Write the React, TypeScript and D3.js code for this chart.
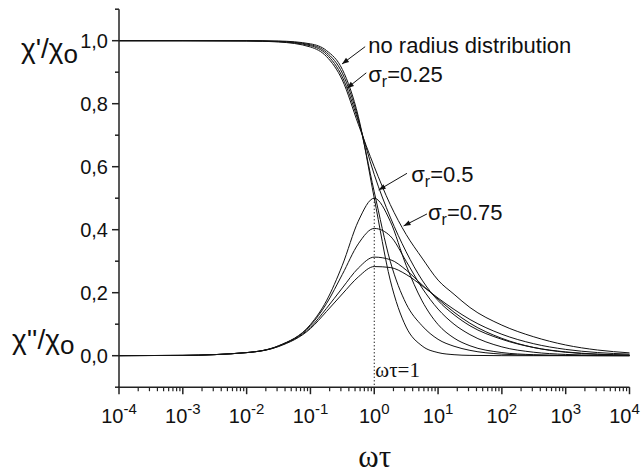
import React from "react";
import * as d3 from "d3";

// ωτ sample positions (log spaced)
const wt = [1e-4, 1e-3, 1e-2, 0.0316, 0.1, 0.178, 0.316, 0.562, 1, 1.78, 3.16, 5.62, 10, 17.8, 31.6, 100, 316, 1000, 3160, 1e4];

// χ'/χ0 curves
const noDistReal = [1, 1, 0.9999, 0.999, 0.99, 0.969, 0.909, 0.76, 0.5, 0.24, 0.091, 0.031, 0.0099, 0.0032, 0.001, 0.0001, 0, 0, 0, 0];
const s25Real = [1, 1, 0.9997, 0.998, 0.987, 0.963, 0.897, 0.752, 0.52, 0.3, 0.165, 0.095, 0.052, 0.03, 0.017, 0.005, 0.0015, 0.0005, 0.0002, 0];
const s50Real = [1, 1, 0.9995, 0.997, 0.984, 0.957, 0.885, 0.745, 0.575, 0.44, 0.33, 0.24, 0.175, 0.13, 0.095, 0.052, 0.026, 0.012, 0.005, 0.002];
const s75Real = [1, 1, 0.9993, 0.996, 0.98, 0.95, 0.875, 0.735, 0.6, 0.48, 0.385, 0.31, 0.24, 0.195, 0.153, 0.097, 0.06, 0.034, 0.018, 0.009];

// χ''/χ0 curves
const noDistImag = [0.0001, 0.001, 0.01, 0.0316, 0.099, 0.174, 0.287, 0.427, 0.5, 0.427, 0.287, 0.174, 0.099, 0.056, 0.0316, 0.01, 0.0032, 0.001, 0.0003, 0.0001];
const s25Imag = [0.0001, 0.001, 0.0099, 0.031, 0.096, 0.165, 0.258, 0.355, 0.404, 0.38, 0.3, 0.215, 0.148, 0.1, 0.067, 0.028, 0.011, 0.004, 0.0015, 0.0005];
const s50Imag = [0.0001, 0.001, 0.0098, 0.03, 0.09, 0.15, 0.215, 0.278, 0.313, 0.305, 0.272, 0.225, 0.18, 0.138, 0.103, 0.055, 0.026, 0.011, 0.0045, 0.0017];
const s75Imag = [0.0001, 0.001, 0.0097, 0.029, 0.086, 0.14, 0.196, 0.25, 0.283, 0.28, 0.258, 0.222, 0.183, 0.147, 0.115, 0.068, 0.038, 0.02, 0.01, 0.005];

const yMajor = [0, 0.2, 0.4, 0.6, 0.8, 1.0];
const yMajorLabels = ["0,0", "0,2", "0,4", "0,6", "0,8", "1,0"];
const yMinor = [-0.1, 0.1, 0.3, 0.5, 0.7, 0.9, 1.1];
const xExponents = [-4, -3, -2, -1, 0, 1, 2, 3, 4];
const xExpLabels = ["-4", "-3", "-2", "-1", "0", "1", "2", "3", "4"];

// annotation texts and arrow anchors (data space)
const annotations = [
  { main: "no radius distribution", sub: "", rest: "", tx: 0.805, ty: 0.962, ax: 0.72, ay: 0.981, bx: 0.312, by: 0.926 },
  { main: "σ", sub: "r", rest: "=0.25", tx: 0.805, ty: 0.87, ax: 0.75, ay: 0.898, bx: 0.373, by: 0.849 },
  { main: "σ", sub: "r", rest: "=0.5", tx: 3.8, ty: 0.552, ax: 3.26, ay: 0.579, bx: 1.17, by: 0.526 },
  { main: "σ", sub: "r", rest: "=0.75", tx: 6.95, ty: 0.431, ax: 6.7, ay: 0.45, bx: 2.88, by: 0.412 },
];

const SANS = "'Liberation Sans', Arial, Helvetica, sans-serif";
const SERIF = "'Liberation Serif', 'Times New Roman', serif";

export default function App() {
  const W = 641, H = 475;
  const x = d3.scaleLog().domain([1e-4, 1e4]).range([119, 629.5]);
  const y = d3.scaleLinear().domain([-0.1, 1.1]).range([387.2, 9.2]);
  const line = d3
    .line<number>()
    .x((_, i) => x(wt[i]))
    .y((d) => y(d))
    .curve(d3.curveMonotoneX);

  const series = [noDistReal, s25Real, s50Real, s75Real, noDistImag, s25Imag, s50Imag, s75Imag];

  const xMinor: number[] = [];
  for (let e = -4; e < 4; e++) for (let k = 2; k <= 9; k++) xMinor.push(k * Math.pow(10, e));

  const x0 = x(1e-4), x1 = x(1e4);
  const yb = y(-0.1), yt = y(1.1);

  const arrowHead = (ax: number, ay: number, bx: number, by: number) => {
    const dx = bx - ax, dy = by - ay;
    const L = Math.sqrt(dx * dx + dy * dy);
    const ux = dx / L, uy = dy / L;
    const hl = 7, hw = 2.6;
    const px = bx - ux * hl, py = by - uy * hl;
    return `${bx},${by} ${px - uy * hw},${py + ux * hw} ${px + uy * hw},${py - ux * hw}`;
  };

  return (
    <svg width={W} height={H} style={{ position: "absolute", left: 0, top: 0, background: "#fff" }}>
      <rect x={0} y={0} width={W} height={H} fill="#fff" />
      <g fill="none" stroke="#111" strokeWidth={1}>
        {series.map((s, i) => (
          <path key={i} d={line(s) || ""} />
        ))}
      </g>
      <line x1={x(1)} x2={x(1)} y1={y(0.5)} y2={yb} stroke="#000" strokeWidth={1} strokeDasharray="1.2,2.3" />
      <g stroke="#222" strokeWidth={1.5}>
        <line x1={x0} x2={x0} y1={yt} y2={yb + 0.75} />
        <line x1={x0 - 0.75} x2={x1} y1={yb} y2={yb} />
        {yMajor.map((v) => (
          <line key={"ym" + v} x1={x0 - 7} x2={x0} y1={y(v)} y2={y(v)} />
        ))}
        {yMinor.map((v) => (
          <line key={"yn" + v} x1={x0 - 4} x2={x0} y1={y(v)} y2={y(v)} />
        ))}
        {xExponents.map((e) => (
          <line key={"xm" + e} x1={x(Math.pow(10, e))} x2={x(Math.pow(10, e))} y1={yb} y2={yb + 7} />
        ))}
        {xMinor.map((v, i) => (
          <line key={"xn" + i} x1={x(v)} x2={x(v)} y1={yb} y2={yb + 4} strokeWidth={1.2} />
        ))}
      </g>
      <g fontFamily={SANS} fontSize={20} fill="#111" textAnchor="middle">
        {yMajor.map((v, i) => (
          <text key={"yl" + v} x={x0 - 11} y={y(v) + 7} textAnchor="end">
            {yMajorLabels[i]}
          </text>
        ))}
        {xExponents.map((e, i) => (
          <text key={"xl" + e} x={x(Math.pow(10, e)) - (e === 4 ? 5 : 0)} y={422.7}>
            10
            <tspan fontSize={15} dy={-9}>
              {xExpLabels[i]}
            </tspan>
          </text>
        ))}
      </g>
      <text fontFamily={SANS} fontSize={28} fill="#111" x={21} y={58}>
        χ'/χ<tspan dy={5} fontSize={26}>o</tspan>
      </text>
      <text fontFamily={SANS} fontSize={28} fill="#111" x={12} y={349}>
        χ''/χ<tspan dy={5} fontSize={26}>o</tspan>
      </text>
      <text fontFamily={SERIF} fontSize={31} fill="#111" textAnchor="middle" x={x(1) + 0.5} y={467}>
        ωτ
      </text>
      <text fontFamily={SERIF} fontSize={21} fill="#111" x={x(1.04)} y={y(-0.067)}>
        ωτ=1
      </text>
      {annotations.map((a, i) => (
        <g key={"an" + i}>
          <line x1={x(a.ax)} y1={y(a.ay)} x2={x(a.bx)} y2={y(a.by)} stroke="#111" strokeWidth={1} />
          <polygon points={arrowHead(x(a.ax), y(a.ay), x(a.bx), y(a.by))} fill="#111" />
          <text fontFamily={SANS} fontSize={22} fill="#111" x={x(a.tx)} y={y(a.ty)}>
            {a.main}
            {a.sub ? (
              <tspan fontSize={16} dy={5}>
                {a.sub}
              </tspan>
            ) : null}
            {a.rest ? <tspan dy={a.sub ? -5 : 0}>{a.rest}</tspan> : null}
          </text>
        </g>
      ))}
    </svg>
  );
}
